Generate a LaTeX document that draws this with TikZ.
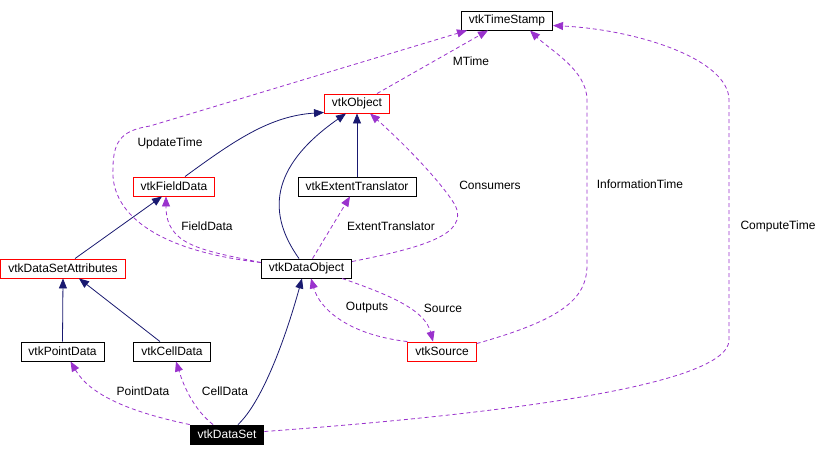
\documentclass[tikz,border=0pt]{standalone}
\usepackage{fontspec}
\setmainfont{Liberation Sans}
\usetikzlibrary{arrows.meta}
\definecolor{navy}{HTML}{191970}
\definecolor{usep}{HTML}{9A32CD}
\definecolor{redb}{HTML}{FF0000}
\begin{document}
\begin{tikzpicture}[x=1pt,y=-1pt,
  font=\fontsize{12}{14}\selectfont,
  cls/.style={draw=black,line width=0.9pt,fill=white,minimum height=19pt,inner xsep=7.5pt,inner ysep=0pt,anchor=center},
  redcls/.style={cls,draw=redb},
  maincls/.style={cls,fill=black,text=white},
  inh/.style={draw=navy,line width=0.8pt,-{Triangle[length=10pt,width=8pt]}},
  use/.style={draw=usep,line width=0.8pt,dash pattern=on 4pt off 3pt,-{Triangle[length=10pt,width=8pt]}},
  lbl/.style={inner sep=0pt,anchor=center}]
\useasboundingbox (0,0) rectangle (822,456);
\fill[white] (0,0) rectangle (822,456);
% nodes
\node[cls] (ts) at (507,20.5) {vtkTimeStamp};
\node[redcls] (obj) at (357,103.5) {vtkObject};
\node[redcls] (fd) at (174,186.5) {vtkFieldData};
\node[cls] (et) at (357,186.5) {vtkExtentTranslator};
\node[cls] (dobj) at (306.5,268.5) {vtkDataObject};
\node[redcls] (dsa) at (63,268.5) {vtkDataSetAttributes};
\node[cls] (pd) at (62.5,351.5) {vtkPointData};
\node[cls] (cd) at (172,351.5) {vtkCellData};
\node[redcls] (src) at (442,351.5) {vtkSource};
\node[maincls] (ds) at (227,434.5) {vtkDataSet};
% inheritance
\draw[inh] ([xshift=11pt]fd.north) .. controls (235,140) and (270,116) .. ([yshift=1pt]obj.south west);
\draw[inh] (et.north) -- (obj.south);
\draw[inh] ([xshift=-7.5pt]dobj.north) .. controls (268,215) and (268,168) .. ([xshift=-11pt]obj.south);
\draw[inh] ([xshift=12pt]dsa.north) -- ([xshift=-12pt]fd.south);
\draw[inh] (pd.north) -- (dsa.south);
\draw[inh] ([xshift=-12pt]cd.north) -- ([xshift=16pt]dsa.south);
\draw[inh] ([xshift=11pt]ds.north) .. controls (262,402) and (285,340) .. ([xshift=-4.5pt]dobj.south);
% usage
\draw[use] (ds.north west) .. controls (130,412) and (90,395) .. ([xshift=8pt]pd.south);
\draw[use] ([xshift=-14pt]ds.north) .. controls (195,410) and (185,390) .. ([xshift=4pt]cd.south);
\draw[use] ([yshift=3pt]ds.east) .. controls (450,418) and (729,390) .. (729,340) -- (729,100) .. controls (729,60) and (640,30) .. ([yshift=-5pt]ts.east);
\draw[use] ([xshift=20pt]obj.north) -- ([xshift=-19pt]ts.south);
\draw[use] ([yshift=6pt]dobj.west) .. controls (150,250) and (110,210) .. (113,168) .. controls (113,138) and (125,130) .. (150,126) -- ([xshift=-40pt]ts.south);
\draw[use] ([yshift=6pt]dobj.west) .. controls (200,250) and (166,245) .. ([xshift=-8pt]fd.south);
\draw[use] ([xshift=6pt]dobj.north) -- ([xshift=-7pt]et.south);
\draw[use] ([yshift=7pt]dobj.east) .. controls (420,248) and (470,235) .. (455,205) .. controls (440,180) and (400,140) .. ([xshift=13pt]obj.south);
\draw[use] ([xshift=-10pt]dobj.south east) .. controls (390,295) and (425,310) .. ([xshift=-9pt]src.north);
\draw[use] (src.north west) .. controls (350,335) and (320,310) .. ([xshift=4.5pt]dobj.south);
\draw[use] ([yshift=-2pt]src.north east) .. controls (560,320) and (587,300) .. (587,265) -- (587,100) .. controls (587,70) and (550,50) .. ([xshift=23pt]ts.south);
% labels
\node[lbl] (l1) at (471,61) {MTime};
\node[lbl] (l2) at (170,143) {UpdateTime};
\node[lbl] (l3) at (207,226) {FieldData};
\node[lbl] (l4) at (391,226) {ExtentTranslator};
\node[lbl] (l5) at (490,185) {Consumers};
\node[lbl] (l6) at (367,308) {Outputs};
\node[lbl] (l7) at (443,308) {Source};
\node[lbl] (l8) at (143,391) {PointData};
\node[lbl] (l9) at (225,391) {CellData};
\node[lbl] (l10) at (640,184) {InformationTime};
\node[lbl] (l11) at (778,226) {ComputeTime};
\end{tikzpicture}
\end{document}
